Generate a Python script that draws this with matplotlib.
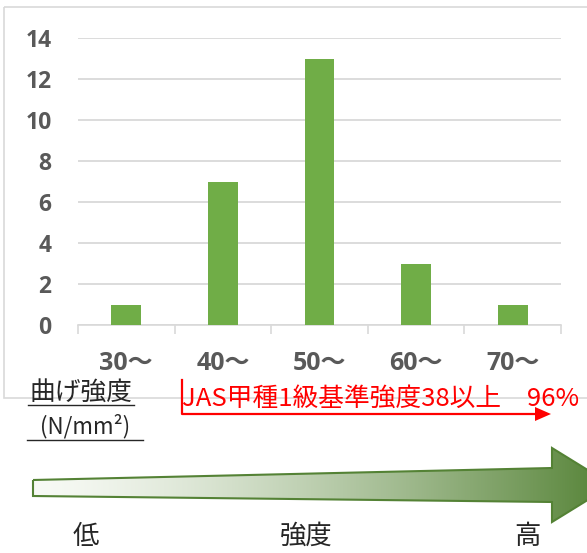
import numpy as np
import matplotlib
matplotlib.use("Agg")
import matplotlib.pyplot as plt
from matplotlib.patches import Polygon, Rectangle

# data
categories = ["30～", "40～", "50～", "60～", "70～"]
counts = [1, 7, 13, 3, 1]
yticks = [0, 2, 4, 6, 8, 10, 12, 14]

note_text = "JAS甲種1級基準強度38以上　96%"
axis_name = "曲げ強度"
axis_unit = "(N/mm²)"
scale_labels = ["低", "強度", "高"]

W, H = 587, 553
fig = plt.figure(figsize=(W / 100, H / 100), dpi=100)

fam = ["Open Sans", "Noto Sans CJK JP", "DejaVu Sans"]
jp = ["Noto Sans CJK JP", "DejaVu Sans"]
gray = "#595959"
grid = "#d9d9d9"

# overlay in pixel coords for decorations
ov = fig.add_axes([0, 0, 1, 1], zorder=0)
ov.set_xlim(0, W)
ov.set_ylim(H, 0)
ov.axis("off")

# chart frame
ov.add_patch(Rectangle((4, 7), 700, 391, fill=False, ec=grid, lw=1.2))

# bar chart
ax = fig.add_axes([78 / W, 1 - 325 / H, (561 - 78) / W, (325 - 38) / H], zorder=1)
ax.patch.set_alpha(0)
x = np.arange(len(categories))
ax.bar(x, counts, width=0.31, color="#70ad47", zorder=3)
ax.set_xlim(-0.5, len(categories) - 0.5)
ax.set_ylim(0, 14)
ax.set_yticks(yticks)
ax.set_yticklabels([str(v) for v in yticks], family=fam, fontweight="bold",
                   fontsize=16.5, color=gray)
ax.set_xticks(x)
ax.set_xticklabels(categories, family=fam, fontweight="bold", fontsize=18, color=gray)
ax.set_xticks(np.arange(len(categories) + 1) - 0.5, minor=True)
ax.tick_params(axis="x", which="major", length=0, pad=19)
ax.tick_params(axis="x", which="minor", length=6.5, color=grid, width=1.2)
ax.tick_params(axis="y", length=0, pad=19)
ax.grid(axis="y", color=grid, lw=1.3, zorder=0)
for s in ["left", "right", "top"]:
    ax.spines[s].set_visible(False)
ax.spines["bottom"].set_color(grid)
ax.spines["bottom"].set_linewidth(1.2)

# axis name with underlines
ov.text(81, 393, axis_name, family=jp, fontsize=18.5, ha="center", va="center",
        color="#262626")
ov.plot([28, 134], [404.5, 404.5], color="#262626", lw=1)
ov.text(85, 426, axis_unit, family=jp, fontsize=16, ha="center", va="center",
        color="#262626")
ov.plot([27, 143], [439.5, 439.5], color="#262626", lw=1)

# red note and arrow
ov.text(182, 399, note_text, family=jp, fontsize=18.5, ha="left", va="center",
        color="#ff0000", zorder=5)
ov.plot([182, 182, 537], [380, 414, 414], color="#ff0000", lw=1.6, zorder=5)
ov.add_patch(Polygon([(535, 407), (551, 414), (535, 421)], closed=True,
                     fc="#ff0000", ec="none", zorder=5))

# gradient arrow
pts = [(33, 480), (552, 468), (552, 448), (612, 485), (552, 522), (552, 502), (33, 496)]
arrow = Polygon(pts, closed=True, fc="none", ec="#548235", lw=1.5, zorder=4)
ov.add_patch(arrow)
c0 = np.array([0.97, 0.98, 0.96])
c1 = np.array([0x54, 0x82, 0x35]) / 255
t = np.linspace(0, 1, 256) ** 1.4
grad = (c0[None, :] * (1 - t[:, None]) + c1[None, :] * t[:, None])[None, :, :]
im = ov.imshow(grad, extent=(33, 612, 522, 448), aspect="auto", zorder=3)
im.set_clip_path(arrow)
ov.set_xlim(0, W)
ov.set_ylim(H, 0)

for lab, xc in zip(scale_labels, [86, 306, 527]):
    ov.text(xc, 536, lab, family=jp, fontsize=19, ha="center", va="center",
            color="#262626")

fig.savefig("out.png", dpi=100)
